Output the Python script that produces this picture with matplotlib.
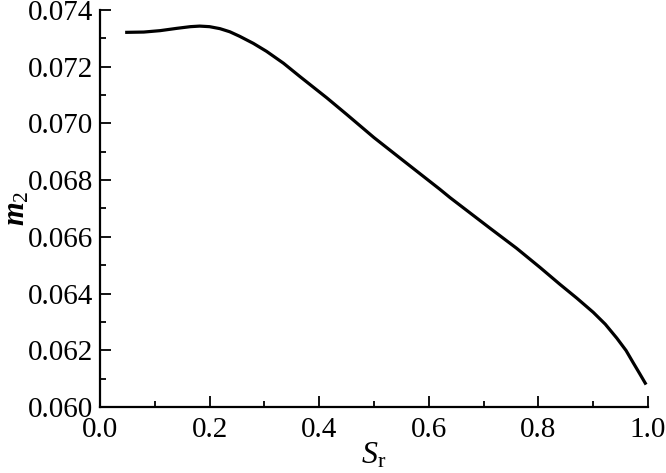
import matplotlib
matplotlib.use("Agg")
import matplotlib.pyplot as plt
from matplotlib.ticker import MultipleLocator, FormatStrFormatter

plt.rcParams['font.family'] = ['Liberation Serif', 'DejaVu Serif']
plt.rcParams['mathtext.fontset'] = 'custom'
plt.rcParams['mathtext.rm'] = 'Liberation Serif'
plt.rcParams['mathtext.it'] = 'Liberation Serif:italic'
plt.rcParams['mathtext.bf'] = 'Liberation Serif:bold'
plt.rcParams['mathtext.bfit'] = 'Liberation Serif:italic:bold'

sr = [0.049, 0.08, 0.11, 0.14, 0.165, 0.182, 0.200, 0.219, 0.237, 0.255, 0.28, 0.304,
      0.335, 0.365, 0.414, 0.45, 0.50, 0.55, 0.62, 0.639, 0.712, 0.760, 0.803, 0.839,
      0.870, 0.900, 0.922, 0.943, 0.960, 0.973, 0.985, 0.995]
m2 = [0.07321, 0.07322, 0.07327, 0.07335, 0.07341, 0.07343, 0.07341, 0.07334, 0.07323,
      0.07307, 0.07282, 0.07254, 0.07212, 0.07165, 0.07090, 0.07032, 0.06950, 0.06874,
      0.06768, 0.06738, 0.06630, 0.06560, 0.06492, 0.06433, 0.06384, 0.06334, 0.06292,
      0.06243, 0.06199, 0.06156, 0.06117, 0.06084]

fig = plt.figure(figsize=(6.66, 4.73), dpi=100)
ax = fig.add_axes([0.150, 0.1395, 0.823, 0.8395])
ax.plot(sr, m2, color='black', lw=2.3)

ax.set_xlim(0.0, 1.0)
ax.set_ylim(0.060, 0.074)
ax.xaxis.set_major_locator(MultipleLocator(0.2))
ax.xaxis.set_minor_locator(MultipleLocator(0.1))
ax.yaxis.set_major_locator(MultipleLocator(0.002))
ax.yaxis.set_minor_locator(MultipleLocator(0.001))
ax.xaxis.set_major_formatter(FormatStrFormatter('%.1f'))
ax.yaxis.set_major_formatter(FormatStrFormatter('%.3f'))

for s in ['top', 'right']:
    ax.spines[s].set_visible(False)
for s in ['left', 'bottom']:
    ax.spines[s].set_linewidth(1.6)

ax.tick_params(which='both', direction='in', width=1.3, labelsize=21)
ax.tick_params(axis='y', pad=5)
ax.tick_params(axis='x', pad=7)
ax.tick_params(which='major', length=8)
ax.tick_params(which='minor', length=4.5)

ax.set_xlabel(r'$S_\mathrm{r}$', fontsize=23, labelpad=-1)
ax.set_ylabel(r'$\mathbfit{m}_2$', fontsize=22, labelpad=-3)

fig.savefig('out.png', dpi=100)
